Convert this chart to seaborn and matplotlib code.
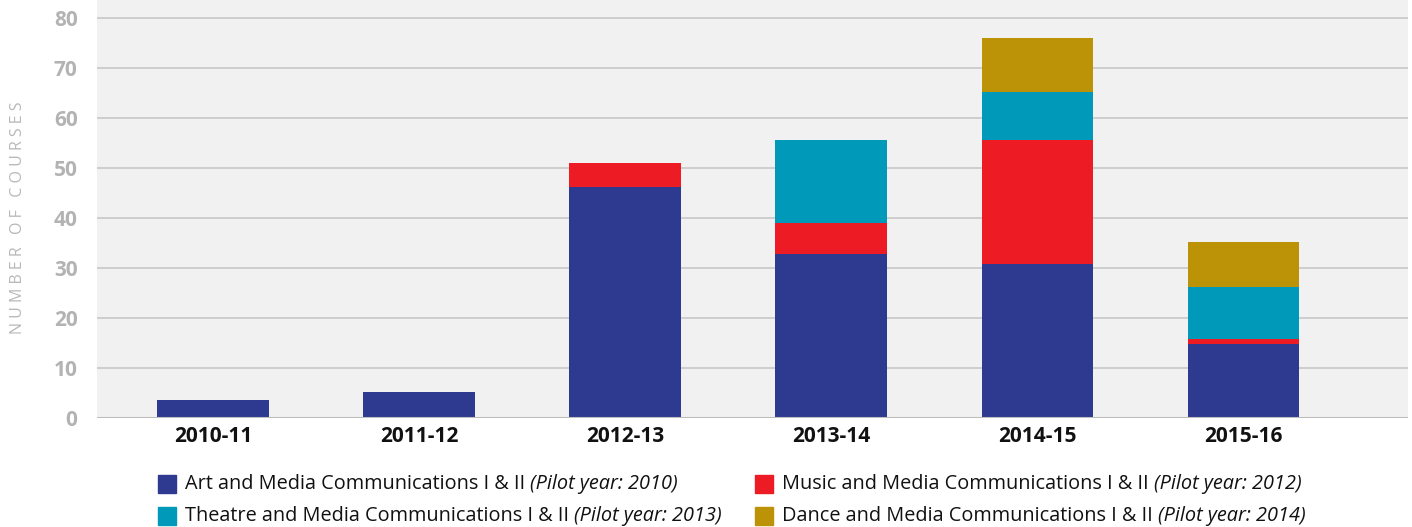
import numpy as np
import pandas as pd
import matplotlib
matplotlib.use("Agg")
import matplotlib.pyplot as plt
import seaborn as sns

years = ["2010-11", "2011-12", "2012-13", "2013-14", "2014-15", "2015-16"]
art = [3.6, 5.2, 46.2, 32.9, 30.8, 14.9]
music = [0, 0, 4.8, 6.1, 24.9, 0.9]
theatre = [0, 0, 0, 16.6, 9.5, 10.4]
dance = [0, 0, 0, 0, 10.8, 9.0]

series_names = ["Art and Media Communications I & II",
                "Music and Media Communications I & II",
                "Theatre and Media Communications I & II",
                "Dance and Media Communications I & II"]
pilot_notes = ["(Pilot year: 2010)", "(Pilot year: 2012)",
               "(Pilot year: 2013)", "(Pilot year: 2014)"]
colors = ["#2E3990", "#ED1C24", "#0099B9", "#BC9207"]

sns.set_theme(style="white")
plt.rcParams['font.family'] = ['Open Sans', 'DejaVu Sans']

fig = plt.figure(figsize=(14.12, 5.27), dpi=100)
ax = fig.add_axes([97/1412, 1 - 418/527, (1408-97)/1412, 418/527])
ax.set_facecolor("#F1F1F1")

layers = [art, music, theatre, dance]
cums = np.cumsum(np.array(layers), axis=0)
df = pd.DataFrame({"year": years})
for i in range(3, -1, -1):
    df["v"] = cums[i]
    sns.barplot(data=df, x="year", y="v", color=colors[i], width=0.54,
                linewidth=0, saturation=1, ax=ax, zorder=3)

ax.set_xlim(-0.563, 5.80)
ax.set_ylim(0, 83.6)
ax.set_yticks(range(0, 81, 10))
ax.yaxis.grid(True, color="#C8C8C8", linewidth=1.2, zorder=0)
ax.set_axisbelow(True)
for s in ax.spines.values():
    s.set_visible(False)
ax.axhline(0, color="#BDBDBD", linewidth=1.5, zorder=4)
ax.tick_params(axis="y", length=0, pad=14, labelsize=15, labelcolor="#B3B3B3")
ax.tick_params(axis="x", length=0, pad=6, labelsize=15)
for t in ax.get_yticklabels():
    t.set_fontweight("bold")
for t in ax.get_xticklabels():
    t.set_fontweight("bold")
    t.set_color("#111111")
ax.set_xlabel("")
ax.set_ylabel("")
fig.text(18/1412, 1 - 218/527, "N U M B E R   O F   C O U R S E S", rotation=90,
         ha="center", va="center", fontsize=11.5, color="#B8B8B8")

# Legend (manual, to allow mixed upright/italic text)
pos = [(158, 484), (755, 484), (158, 516), (755, 516)]
W, H = 1412, 527
texts = []
for i, (px, py) in enumerate(pos):
    fig.patches.append(plt.Rectangle((px / W, 1 - (py + 9) / H), 18 / W, 18 / H,
                                     transform=fig.transFigure, color=colors[i],
                                     figure=fig))
    t = fig.text((px + 27) / W, 1 - py / H, series_names[i], ha="left",
                 va="center", fontsize=14.3, color="#111111")
    texts.append(t)
fig.canvas.draw()
r = fig.canvas.get_renderer()
for i, t in enumerate(texts):
    bb = t.get_window_extent(r)
    x1 = bb.x1 / (fig.dpi * fig.get_figwidth())
    fig.text(x1 + 5 / W, 1 - pos[i][1] / H, pilot_notes[i], ha="left",
             va="center", fontsize=14.3, style="italic", color="#111111")

fig.savefig("out.png", dpi=100)
